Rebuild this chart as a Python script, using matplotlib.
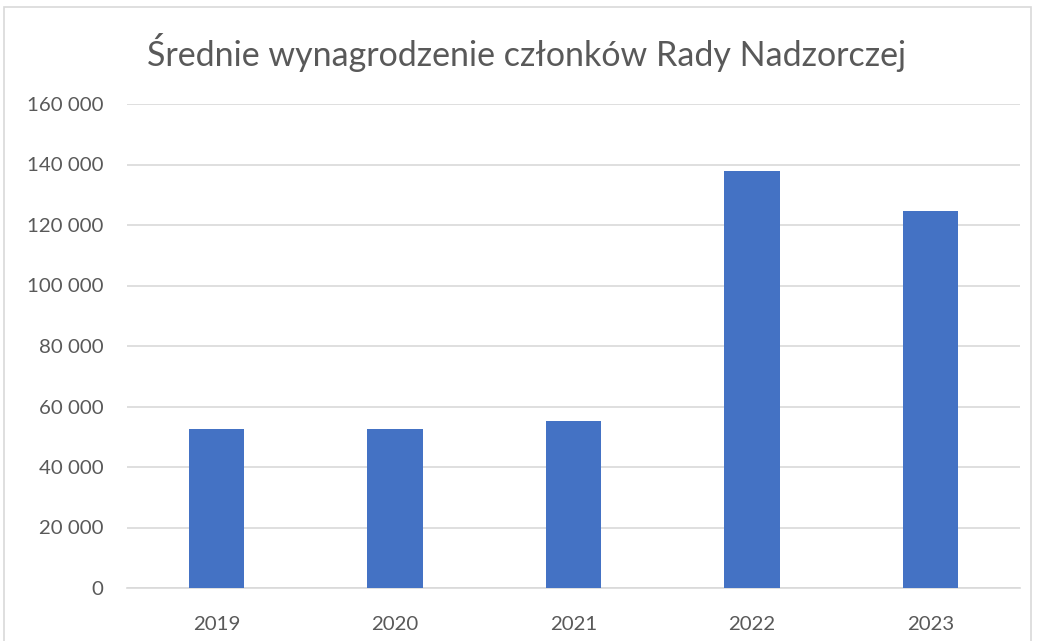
import matplotlib.pyplot as plt
from matplotlib.patches import Rectangle
from matplotlib.ticker import FuncFormatter

years = ["2019", "2020", "2021", "2022", "2023"]
salary = [52600, 52600, 55300, 138000, 124500]
y_ticks = [0, 20000, 40000, 60000, 80000, 100000, 120000, 140000, 160000]

plt.rcParams['font.family'] = ['Lato', 'DejaVu Sans']

W, H = 1037, 641
fig = plt.figure(figsize=(W / 100, H / 100), dpi=100)

# chart frame (cut off at the bottom)
fig.patches.append(Rectangle((4 / W, -0.05), (1031 - 4) / W, 1.05 - 7 / H,
                             transform=fig.transFigure, fill=False,
                             edgecolor='#d9d9d9', linewidth=1.2))

ax = fig.add_axes([127 / W, 1 - 588 / H, (1020 - 127) / W, (588 - 104) / H])
x = range(len(years))
ax.bar(x, salary, width=0.31, color='#4472c4', zorder=3)

ax.set_xlim(-0.5, len(years) - 0.5)
ax.set_ylim(0, 160000)
ax.set_yticks(y_ticks)
ax.yaxis.set_major_formatter(FuncFormatter(lambda v, p: f"{int(v):,}".replace(",", " ")))
ax.set_xticks(list(x))
ax.set_xticklabels(years)
ax.grid(axis='y', color='#d9d9d9', linewidth=1.2, zorder=0)
for s in ['top', 'right', 'left']:
    ax.spines[s].set_visible(False)
ax.spines['bottom'].set_color('#d9d9d9')
ax.spines['bottom'].set_linewidth(1.2)
ax.tick_params(length=0, labelsize=14.7, colors='#595959')
ax.tick_params(axis='x', pad=20)
ax.tick_params(axis='y', pad=17)

fig.text(527 / W, 1 - 52 / H, "Średnie wynagrodzenie członków Rady Nadzorczej",
         ha='center', va='center', fontsize=24.5, color='#595959')

fig.savefig("out.png", dpi=100)
